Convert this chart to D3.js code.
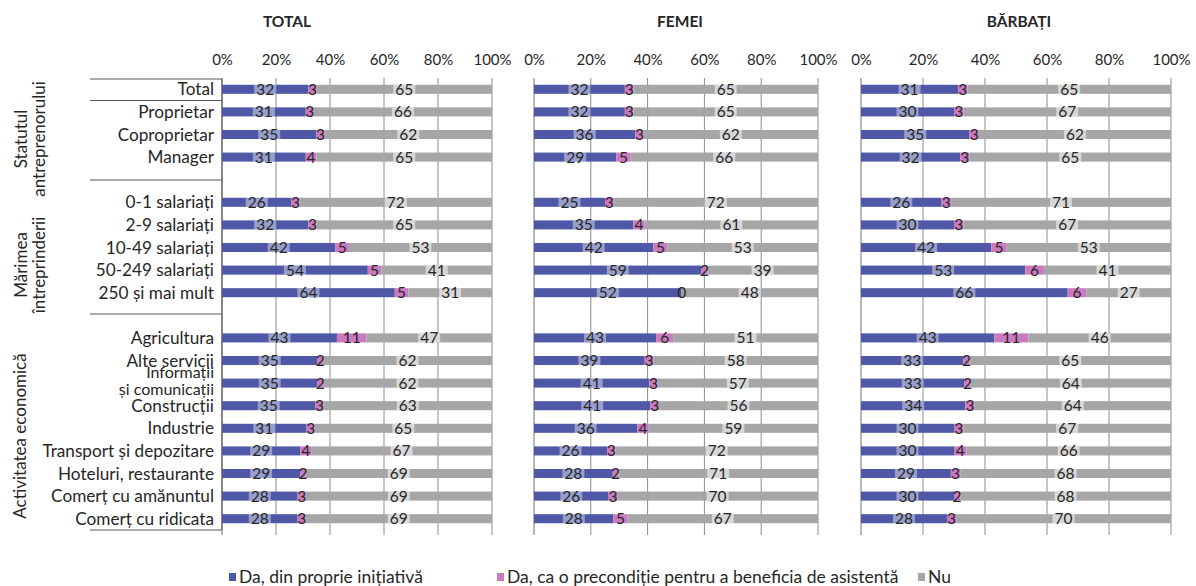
<!DOCTYPE html>
<html>
<head>
<meta charset="utf-8">
<script src="https://cdn.jsdelivr.net/npm/d3@7"></script>
<style>
  html, body { margin: 0; padding: 0; background: #fff; }
  svg { display: block; font-family: Lato, "Open Sans", sans-serif; }
</style>
</head>
<body>
<svg id="chart" width="1196" height="586"></svg>
<script>
// ---------------- DATA ----------------
const categories = [
  "Total", "Proprietar", "Coproprietar", "Manager", "",
  "0-1 salariați", "2-9 salariați", "10-49 salariați", "50-249 salariați", "250 și mai mult", "",
  "Agricultura", "Alte servicii", "Informații\nși comunicații", "Construcții", "Industrie",
  "Transport și depozitare", "Hoteluri, restaurante", "Comerț cu amănuntul", "Comerț cu ridicata"
];
const groupLabels = [
  ["Statutul", "antreprenorului"],
  ["Mărimea", "întreprinderii"],
  ["Activitatea economică"]
];
const panelTitles = ["TOTAL", "FEMEI", "BĂRBAȚI"];
const seriesNames = ["Da, din proprie inițiativă", "Da, ca o precondiție pentru a beneficia de asistentă", "Nu"];
const tickValues = [0, 0.2, 0.4, 0.6, 0.8, 1];

const totalOwn = [32, 31, 35, 31, null, 26, 32, 42, 54, 64, null, 43, 35, 35, 35, 31, 29, 29, 28, 28];
const totalPre = [3, 3, 3, 4, null, 3, 3, 5, 5, 5, null, 11, 2, 2, 3, 3, 4, 2, 3, 3];
const totalNo  = [65, 66, 62, 65, null, 72, 65, 53, 41, 31, null, 47, 62, 62, 63, 65, 67, 69, 69, 69];

const femeiOwn = [32, 32, 36, 29, null, 25, 35, 42, 59, 52, null, 43, 39, 41, 41, 36, 26, 28, 26, 28];
const femeiPre = [3, 3, 3, 5, null, 3, 4, 5, 2, 0, null, 6, 3, 3, 3, 4, 3, 2, 3, 5];
const femeiNo  = [65, 65, 62, 66, null, 72, 61, 53, 39, 48, null, 51, 58, 57, 56, 59, 72, 71, 70, 67];

const barbatiOwn = [31, 30, 35, 32, null, 26, 30, 42, 53, 66, null, 43, 33, 33, 34, 30, 30, 29, 30, 28];
const barbatiPre = [3, 3, 3, 3, null, 3, 3, 5, 6, 6, null, 11, 2, 2, 3, 3, 4, 3, 2, 3];
const barbatiNo  = [65, 67, 62, 65, null, 71, 67, 53, 41, 27, null, 46, 65, 64, 64, 67, 66, 68, 68, 70];

// ---------------- LAYOUT ----------------
const colors = ["#4f58a6", "#cc7ac0", "#a6a6a6"];
const labelBgOpacity = [0.42, 0, 0.55];
const panels = [
  { title: panelTitles[0], titleX: 287, x0: 222, x1: 492, series: [totalOwn, totalPre, totalNo] },
  { title: panelTitles[1], titleX: 680, x0: 534, x1: 818, series: [femeiOwn, femeiPre, femeiNo] },
  { title: panelTitles[2], titleX: 1019, x0: 861, x1: 1171, series: [barbatiOwn, barbatiPre, barbatiNo] }
];
const gridTop = 78, gridBottom = 535;
const textColor = "#262626";

const svg = d3.select("#chart");

const y = d3.scaleBand()
  .domain(d3.range(categories.length))
  .range([78, 530])
  .paddingInner(0.6)
  .paddingOuter(0.3);

// ---------------- LEFT TABLE ----------------
const left = svg.append("g");
const labelX = 214;
categories.forEach((c, i) => {
  if (!c) return;
  const cy = y(i) + y.bandwidth() / 2;
  const lines = c.split("\n");
  const t = left.append("text")
    .attr("x", labelX)
    .attr("text-anchor", "end")
    .attr("font-size", lines.length === 1 ? 17.2 : 16)
    .attr("fill", textColor);
  if (lines.length === 1) {
    t.attr("y", cy).attr("dy", "0.35em").text(c);
  } else {
    t.append("tspan").attr("x", labelX).attr("y", cy - 11).attr("dy", "0.35em").text(lines[0]);
    t.append("tspan").attr("x", labelX).attr("y", cy + 6).attr("dy", "0.35em").text(lines[1]);
  }
});

// separator lines
const sepY = [79, 100.5, 180, 314, 530];
sepY.forEach(v => {
  left.append("line")
    .attr("x1", 90).attr("x2", 222)
    .attr("y1", v).attr("y2", v)
    .attr("stroke", "#595959").attr("stroke-width", 1.2);
});
left.append("line")
  .attr("x1", 222).attr("x2", 222)
  .attr("y1", 79).attr("y2", 530)
  .attr("stroke", "#595959").attr("stroke-width", 1.2);

// group labels (rotated)
const groupCenters = [139, 265, 436];
groupLabels.forEach((g, gi) => {
  const cy = groupCenters[gi];
  g.forEach((line, li) => {
    const cx = g.length === 1 ? 20 : (li === 0 ? 21 : 39);
    left.append("text")
      .attr("transform", `translate(${cx},${cy}) rotate(-90)`)
      .attr("text-anchor", "middle")
      .attr("dy", "0.35em")
      .attr("font-size", 17)
      .attr("fill", textColor)
      .text(line);
  });
});

// ---------------- PANELS ----------------
panels.forEach(p => {
  const x = d3.scaleLinear().domain([0, 1]).range([p.x0, p.x1]);
  const g = svg.append("g");

  // title
  g.append("text")
    .attr("x", p.titleX).attr("y", 22).attr("dy", "0.35em")
    .attr("text-anchor", "middle")
    .attr("font-size", 15.5).attr("font-weight", "bold")
    .attr("fill", textColor)
    .text(p.title);

  // axis labels
  const axis = d3.axisTop(x).tickValues(tickValues).tickSize(0).tickPadding(0)
    .tickFormat(d3.format(".0%"));
  const ag = g.append("g").attr("transform", "translate(0,65)").call(axis);
  ag.select(".domain").remove();
  ag.selectAll("text")
    .attr("font-family", "Lato, 'Open Sans', sans-serif")
    .attr("font-size", 15)
    .attr("fill", textColor)
    .attr("dy", "0");

  // gridlines
  g.append("g").selectAll("line").data(tickValues).join("line")
    .attr("x1", d => x(d)).attr("x2", d => x(d))
    .attr("y1", gridTop).attr("y2", gridBottom)
    .attr("stroke", d => d === 0 ? "#6f6f6f" : "#8c8c8c")
    .attr("stroke-width", 1);

  // stacked rows
  const rows = d3.range(categories.length).filter(i => p.series[0][i] !== null);
  rows.forEach(i => {
    const vals = p.series.map(s => s[i]);
    const sum = d3.sum(vals);
    let acc = 0;
    const segs = vals.map((v, k) => {
      const s = { k, v, a: acc / sum, b: (acc + v) / sum };
      acc += v;
      return s;
    });
    const by = y(i), bh = y.bandwidth();
    segs.forEach(s => {
      g.append("rect")
        .attr("x", x(s.a)).attr("y", by)
        .attr("width", Math.max(0, x(s.b) - x(s.a))).attr("height", bh)
        .attr("fill", colors[s.k]);
    });
    segs.forEach(s => {
      const cx = (x(s.a) + x(s.b)) / 2;
      const bg = g.append("rect").attr("fill", "#fff").attr("fill-opacity", labelBgOpacity[s.k]);
      const t = g.append("text")
        .attr("x", cx).attr("y", by + bh / 2).attr("dy", "0.36em")
        .attr("text-anchor", "middle")
        .attr("font-size", 15.5)
        .attr("fill", textColor)
        .text(s.v);
      const w = t.node().getComputedTextLength();
      bg.attr("x", cx - w / 2 - 2).attr("y", by).attr("width", w + 4).attr("height", bh);
    });
  });
});

// ---------------- LEGEND ----------------
const legendX = [229, 497, 918];
const legend = svg.append("g");
seriesNames.forEach((n, i) => {
  legend.append("rect")
    .attr("x", legendX[i]).attr("y", 573).attr("width", 7).attr("height", 8)
    .attr("fill", colors[i]);
  legend.append("text")
    .attr("x", legendX[i] + 10).attr("y", 577).attr("dy", "0.35em")
    .attr("font-size", 17.5)
    .attr("fill", textColor)
    .text(n);
});
</script>
</body>
</html>
